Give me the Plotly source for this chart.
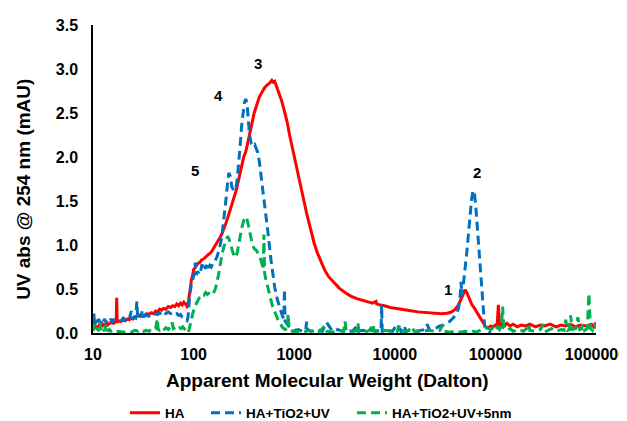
import math
import plotly.graph_objects as go

# ---------------- data ----------------
x_ticks = [10, 100, 1000, 10000, 100000, 1000000]
x_tick_labels = ["10", "100", "1000", "10000", "100000", "1000000"]
y_ticks = [0, 0.5, 1.0, 1.5, 2.0, 2.5, 3.0, 3.5]

series_names = ["HA", "HA+TiO2+UV", "HA+TiO2+UV+5nm"]

ha_x = [10, 10.5, 11, 11.5, 12, 12.5, 13, 13.5, 14, 15, 16, 17, 17.2, 17.4, 18, 19, 20, 21, 22, 23, 24, 25, 26, 28, 30,
        32, 34, 36, 38, 40, 42, 44, 46, 48, 50, 53, 56, 59, 62, 65, 68, 71, 74, 77, 80, 83, 86, 88, 90, 92, 95, 98,
        100, 103, 106, 110, 115, 120, 125, 130, 135, 140, 150, 160, 170, 180, 190, 200, 210, 220, 235, 250, 265,
        280, 300, 315, 330, 345, 360, 380, 400, 420, 450, 480, 510, 540, 570, 600, 620, 640, 670, 700, 750, 800,
        850, 900, 950, 1000, 1050, 1100, 1180, 1250, 1330, 1400, 1480, 1580, 1700, 1860, 2000, 2200, 2500, 2800,
        3200, 3650, 4200, 4800, 5400, 6000, 6500, 6600, 7000, 7900, 9000, 10000, 11600, 13000, 15000, 17000, 20000,
        24000, 29000, 33000, 36000, 39000, 42000, 45000, 48000, 50000, 52000, 55000, 58000, 62000, 67000, 72000,
        76000, 80000, 85000, 90000, 95000, 100000, 104000, 107000, 110000, 115000, 120000, 130000, 140000, 150000,
        165000, 180000, 200000, 220000, 250000, 280000, 310000, 350000, 400000, 450000, 500000, 560000, 620000,
        700000, 800000, 900000, 950000, 1000000]
ha_y = [0.04, 0.08, 0.05, 0.09, 0.07, 0.10, 0.08, 0.11, 0.09, 0.12, 0.11, 0.13, 0.40, 0.12, 0.14, 0.13, 0.15, 0.14,
        0.16, 0.15, 0.17, 0.16, 0.18, 0.19, 0.20, 0.19, 0.22, 0.21, 0.23, 0.22, 0.25, 0.24, 0.27, 0.26, 0.28, 0.27,
        0.30, 0.29, 0.31, 0.30, 0.33, 0.31, 0.34, 0.32, 0.35, 0.33, 0.30, 0.32, 0.42, 0.52, 0.60, 0.66, 0.72, 0.74,
        0.77, 0.79, 0.80, 0.83, 0.84, 0.86, 0.88, 0.89, 0.92, 0.97, 1.02, 1.07, 1.12, 1.18, 1.25, 1.32, 1.42, 1.52,
        1.62, 1.74, 1.90, 2.00, 2.06, 2.15, 2.24, 2.38, 2.50, 2.58, 2.68, 2.74, 2.79, 2.82, 2.84, 2.87, 2.85, 2.86,
        2.80, 2.74, 2.64, 2.52, 2.40, 2.25, 2.12, 2.00, 1.90, 1.78, 1.62, 1.50, 1.36, 1.25, 1.13, 1.02, 0.91, 0.80,
        0.72, 0.64, 0.57, 0.51, 0.46, 0.42, 0.39, 0.37, 0.35, 0.34, 0.36, 0.33, 0.32, 0.31, 0.29, 0.28, 0.27, 0.26,
        0.25, 0.24, 0.235, 0.23, 0.22, 0.225, 0.235, 0.26, 0.30, 0.37, 0.45, 0.49, 0.46, 0.39, 0.33, 0.28, 0.22,
        0.15, 0.11, 0.07, 0.06, 0.08, 0.07, 0.09, 0.08, 0.32, 0.08, 0.10, 0.07, 0.11, 0.08, 0.10, 0.07, 0.09, 0.08,
        0.10, 0.07, 0.09, 0.08, 0.10, 0.07, 0.09, 0.08, 0.10, 0.07, 0.09, 0.08, 0.10, 0.07, 0.12]

uv_x = [10, 10.2, 10.4, 10.7, 11, 11.4, 11.8, 12.2, 12.6, 13, 13.5, 14, 14.5, 15, 15.5, 16, 17, 18, 19, 20, 21, 22,
        23, 24, 24.5, 25.5, 26.5, 27.3, 27.8, 29, 30, 31, 32, 34, 36, 38, 40, 42, 44, 46, 48, 50, 53, 56, 59, 62, 65,
        68, 71, 74, 77, 80, 83, 86, 88, 90, 92, 95, 98, 100, 102, 104, 106, 109, 112, 115, 118, 121, 124, 128, 132,
        136, 140, 145, 150, 155, 160, 170, 180, 190, 200, 210, 218, 224, 232, 240, 250, 260, 270, 280, 290, 300,
        310, 320, 330, 340, 350, 360, 375, 390, 405, 420, 435, 450, 470, 500, 525, 550, 580, 610, 640, 680, 720,
        760, 790, 800, 810, 840, 870, 900, 950, 1000, 1100, 1200, 1300, 1330, 1360, 1500, 1700, 1900, 2100, 2400,
        2700, 3000, 3400, 3800, 4200, 4300, 4800, 5400, 6000, 6800, 7300, 7400, 7500, 8500, 9500, 10500, 11500,
        12500, 12800, 14000, 16000, 18000, 20000, 21000, 22000, 24000, 26000, 28000, 30000, 32000, 35000, 38000,
        41000, 43000, 44500, 45500, 46500, 48000, 50000, 52000, 54000, 56000, 58000, 60000, 62000, 64000, 66000,
        68000, 70000, 72000, 74000, 76000, 78000, 80000, 84000, 90000]
uv_y = [0.05, 0.22, 0.08, 0.15, 0.10, 0.16, 0.11, 0.15, 0.12, 0.16, 0.12, 0.15, 0.13, 0.16, 0.13, 0.15, 0.14, 0.16,
        0.14, 0.17, 0.15, 0.18, 0.16, 0.25, 0.16, 0.18, 0.17, 0.36, 0.17, 0.20, 0.18, 0.26, 0.19, 0.20, 0.19, 0.21,
        0.20, 0.22, 0.21, 0.23, 0.21, 0.24, 0.22, 0.24, 0.22, 0.23, 0.21, 0.22, 0.20, 0.21, 0.18, 0.17, 0.15, 0.14,
        0.18, 0.33, 0.45, 0.55, 0.60, 0.62, 0.68, 0.80, 0.66, 0.70, 0.68, 0.73, 0.71, 0.78, 0.72, 0.76, 0.73, 0.79,
        0.74, 0.77, 0.75, 0.79, 0.80, 0.86, 0.95, 1.08, 1.28, 1.52, 1.72, 1.82, 1.78, 1.66, 1.62, 1.62, 1.72, 1.90,
        2.12, 2.35, 2.52, 2.62, 2.66, 2.60, 2.42, 2.25, 2.15, 2.12, 2.14, 2.08, 2.05, 1.95, 1.78, 1.50, 1.30, 1.13,
        0.88, 0.68, 0.52, 0.38, 0.27, 0.20, 0.16, 0.50, 0.14, 0.11, 0.08, 0.06, 0.05, 0.03, 0.04, 0.02, 0.03, 0.13,
        0.03, 0.02, 0.04, 0.02, 0.12, 0.02, 0.04, 0.02, 0.03, 0.02, 0.08, 0.02, 0.03, 0.02, 0.03, 0.02, 0.02, 0.32,
        0.02, 0.03, 0.02, 0.10, 0.02, 0.08, 0.02, 0.03, 0.02, 0.03, 0.04, 0.10, 0.04, 0.05, 0.06, 0.08, 0.09, 0.11,
        0.13, 0.17, 0.22, 0.28, 0.40, 0.58, 0.42, 0.55, 0.72, 0.92, 1.13, 1.35, 1.52, 1.62, 1.58, 1.42, 1.22, 1.00,
        0.80, 0.60, 0.40, 0.20, 0.09, 0.04, 0.02, 0.00]

nm_x = [10, 10.3, 10.6, 11, 11.4, 11.8, 12.1, 12.6, 13, 13.5, 14, 14.5, 15, 16, 17, 18, 20, 22, 24, 26, 28, 30, 32,
        34, 36, 38, 40, 42, 43.5, 44.5, 46, 48, 50, 53, 56, 59, 61, 63, 66, 69, 72, 75, 78, 81, 84, 87, 89, 92, 95,
        98, 100, 103, 106, 110, 114, 118, 122, 127, 132, 137, 142, 148, 155, 162, 170, 178, 185, 192, 200, 210, 218,
        226, 235, 245, 255, 263, 272, 282, 292, 302, 315, 330, 342, 355, 370, 385, 400, 420, 440, 460, 480, 492,
        500, 508, 525, 550, 580, 610, 650, 690, 730, 770, 810, 850, 870, 890, 930, 970, 1000, 1100, 1250, 1400,
        1600, 1800, 2000, 2100, 2400, 2700, 3100, 3200, 3300, 3700, 4200, 4300, 4400, 5000, 5600, 6100, 6200, 7000,
        8000, 9000, 10500, 11000, 11500, 13000, 15000, 15500, 18000, 21000, 25000, 28000, 30000, 31000, 35000,
        40000, 45000, 50000, 55000, 60000, 65000, 70000, 75000, 80000, 85000, 90000, 95000, 100000, 105000, 110000,
        115000, 118000, 121000, 130000, 140000, 150000, 170000, 190000, 210000, 215000, 220000, 250000, 280000,
        300000, 320000, 360000, 400000, 450000, 480000, 500000, 520000, 545000, 560000, 580000, 630000, 660000,
        690000, 720000, 740000, 770000, 820000, 850000, 880000, 920000, 960000, 1000000]
nm_y = [0.02, 0.10, 0.03, 0.06, 0.02, 0.12, 0.02, 0.05, 0.02, 0.10, 0.02, 0.04, 0.02, 0.03, 0.01, 0.02, 0.01, 0.02,
        0.01, 0.03, 0.02, 0.04, 0.02, 0.03, 0.02, 0.04, 0.03, 0.05, 0.16, 0.04, 0.03, 0.05, 0.03, 0.06, 0.04, 0.07,
        0.12, 0.05, 0.06, 0.04, 0.06, 0.05, 0.07, 0.05, 0.02, 0.00, 0.01, 0.07, 0.15, 0.22, 0.26, 0.30, 0.33, 0.37,
        0.40, 0.42, 0.44, 0.43, 0.46, 0.44, 0.45, 0.43, 0.44, 0.48, 0.56, 0.68, 0.80, 0.90, 0.98, 1.06, 1.10, 1.06,
        0.98, 0.92, 0.87, 0.86, 0.92, 1.02, 1.12, 1.20, 1.28, 1.32, 1.28, 1.20, 1.08, 1.00, 0.96, 0.94, 0.90, 0.85,
        0.78, 0.72, 1.12, 0.68, 0.60, 0.52, 0.40, 0.30, 0.22, 0.15, 0.10, 0.06, 0.04, 0.05, 0.22, 0.04, 0.03, 0.02,
        0.01, 0.02, 0.01, 0.03, 0.01, 0.02, 0.08, 0.02, 0.01, 0.03, 0.02, 0.13, 0.02, 0.01, 0.03, 0.11, 0.02, 0.01,
        0.03, 0.10, 0.02, 0.01, 0.03, 0.02, 0.01, 0.08, 0.02, 0.01, 0.07, 0.02, 0.01, 0.03, 0.02, 0.03, 0.09, 0.02,
        0.01, 0.02, 0.01, 0.02, 0.01, 0.02, 0.01, 0.03, 0.05, 0.06, 0.05, 0.04, 0.06, 0.03, 0.07, 0.04, 0.08, 0.30,
        0.06, 0.03, 0.05, 0.02, 0.04, 0.02, 0.06, 0.10, 0.03, 0.02, 0.04, 0.10, 0.02, 0.05, 0.02, 0.04, 0.03, 0.15,
        0.03, 0.04, 0.20, 0.04, 0.05, 0.18, 0.04, 0.05, 0.10, 0.03, 0.05, 0.45, 0.05, 0.03, 0.10, 0.05]

peak_labels = ["1", "2", "3", "4", "5"]
peak_x = [34000, 66000, 436, 178, 103]
peak_y = [0.49, 1.82, 3.06, 2.70, 1.85]

# ---------------- figure ----------------
FONT = "Liberation Sans, Arial, sans-serif"
colors = ["#FF0000", "#0070C0", "#00B050"]
dashes = ["solid", "9px,5px", "9px,5px"]
xs = [ha_x, uv_x, nm_x]
ys = [ha_y, uv_y, nm_y]
legend_ids = ["legend", "legend2", "legend3"]

W, H = 619, 413  # page body has an 8px margin in the browser

fig = go.Figure()
for i in range(3):
    fig.add_trace(go.Scatter(
        x=xs[i], y=ys[i], name=series_names[i], mode="lines",
        line=dict(color=colors[i], width=3, dash=dashes[i]),
        legend=legend_ids[i],
    ))

# annotations on a log axis take log10 positions
for t, xv, yv in zip(peak_labels, peak_x, peak_y):
    fig.add_annotation(x=math.log10(xv), y=yv, xref="x", yref="y", text=t, showarrow=False,
                       xanchor="center", yanchor="middle",
                       font=dict(family=FONT, size=15, color="black", weight="bold"))

fig.add_annotation(x=-0.137, y=0.465, xref="paper", yref="paper",
                   text="UV abs @ 254 nm (mAU)", textangle=-90, showarrow=False,
                   xanchor="center", yanchor="middle",
                   font=dict(family=FONT, size=19, color="black", weight="bold"))
fig.add_annotation(x=0.466, y=-0.153, xref="paper", yref="paper",
                   text="Apparent Molecular Weight (Dalton)", showarrow=False,
                   xanchor="center", yanchor="middle",
                   font=dict(family=FONT, size=19, color="black", weight="bold"))

legend_font = dict(family=FONT, size=13.5, color="black", weight="bold")
leg_common = dict(orientation="h", xref="container", yref="container", yanchor="middle",
                  y=(H - 405) / H, font=legend_font, bgcolor="rgba(0,0,0,0)", borderwidth=0)

fig.update_layout(
    width=W, height=H,
    margin=dict(l=85, r=31, t=17, b=88, autoexpand=False),
    paper_bgcolor="white", plot_bgcolor="white",
    font=dict(family=FONT, color="black"),
    showlegend=True,
    legend=dict(x=117 / W, **leg_common),
    legend2=dict(x=198 / W, **leg_common),
    legend3=dict(x=344 / W, **leg_common),
    xaxis=dict(type="log", range=[1, 6], tickvals=x_ticks, ticktext=x_tick_labels,
               showline=True, linecolor="black", linewidth=1.5, showgrid=False, zeroline=False,
               automargin=False, ticklabeloverflow="allow", ticklabelstandoff=6,
               ticks="", tickfont=dict(family=FONT, size=16, color="black", weight="bold")),
    yaxis=dict(range=[0, 3.5], tickvals=y_ticks, tickformat=".1f",
               showline=True, linecolor="black", linewidth=1.5, showgrid=False, zeroline=False,
               automargin=False, ticklabelstandoff=10,
               ticks="", tickfont=dict(family=FONT, size=16, color="black", weight="bold")),
)

fig.write_html("out.html")
